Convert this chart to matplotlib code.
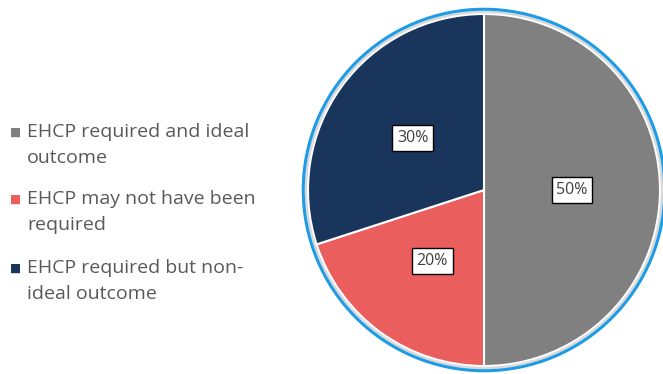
import matplotlib.pyplot as plt
from matplotlib.patches import Circle

labels = ["EHCP required and ideal\noutcome",
          "EHCP may not have been\nrequired",
          "EHCP required but non-\nideal outcome"]
values = [50, 20, 30]
colors = ["#808080", "#EA5E5E", "#19355C"]

plt.rcParams["font.family"] = ["Open Sans", "DejaVu Sans"]

W, H = 663, 374
fig = plt.figure(figsize=(W / 100, H / 100), dpi=100)

# pie axes: centre (484, 190) px, radius 176 px
lim = 1.1
r_px = 176
cx, cy = 484, H - 190
side = 2 * lim * r_px
ax = fig.add_axes([(cx - side / 2) / W, (cy - side / 2) / H, side / W, side / H])

wedges, texts, autotexts = ax.pie(
    values, colors=colors, startangle=90, counterclock=False,
    autopct="%d%%", pctdistance=0.5,
    wedgeprops=dict(edgecolor="white", linewidth=1.5))
for t in autotexts:
    t.set_fontsize(11.5)
    t.set_color("#404040")
    t.set_bbox(dict(facecolor="white", edgecolor="black", linewidth=1, boxstyle="square,pad=0.3"))

ax.add_patch(Circle((0, 0), 1.012, fill=False, edgecolor="#D9D9D9", linewidth=1.8))
ax.add_patch(Circle((0, 0), 1.027, fill=False, edgecolor="#1E9BE5", linewidth=2.2))
ax.set_xlim(-lim, lim)
ax.set_ylim(-lim, lim)
ax.set_aspect("equal")
ax.axis("off")

# legend
ys = [132, 199, 268]
for lab, c, y in zip(labels, colors, ys):
    fig.text(10 / W, 1 - y / H, "■", color=c, fontsize=8.5, va="center", ha="left",
             family="DejaVu Sans")
    fig.text(27 / W, 1 - (y - 9) / H, lab, color="#595959", fontsize=14,
             va="top", ha="left", linespacing=1.55)

fig.savefig("out.png", dpi=100, facecolor="white")
